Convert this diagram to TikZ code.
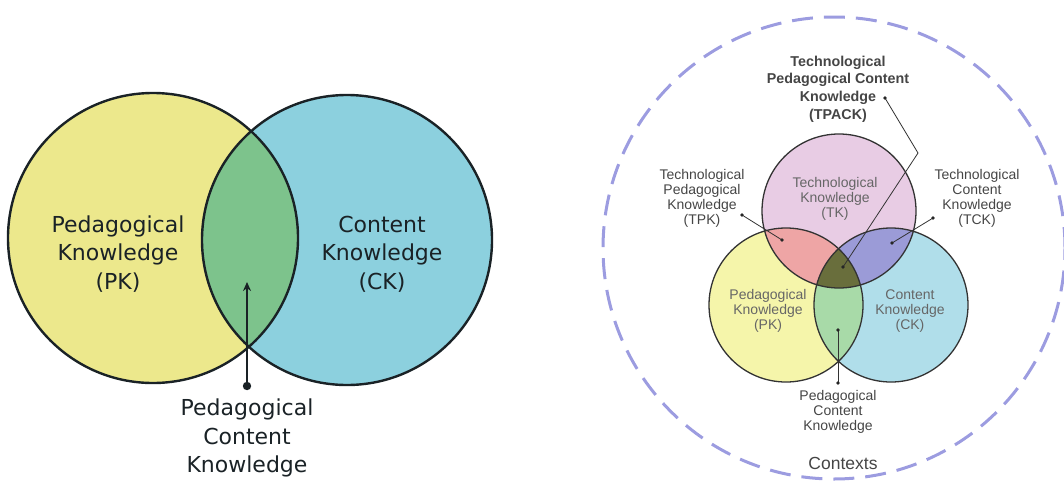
\documentclass[tikz,border=0pt]{standalone}
\usepackage{fontspec}
\setmainfont{Liberation Sans}
\newfontfamily\dejavu{DejaVu Sans}
\usetikzlibrary{arrows.meta}
\definecolor{lyellow}{HTML}{ECE88C}
\definecolor{lblue}{HTML}{8CD0DE}
\definecolor{lgreen}{HTML}{7DC38C}
\definecolor{ryellow}{HTML}{F5F5AA}
\definecolor{rblue}{HTML}{B0DEEA}
\definecolor{rpink}{HTML}{E8CCE4}
\definecolor{rred}{HTML}{EEA5A5}
\definecolor{rpurple}{HTML}{9B9BD7}
\definecolor{rgreen}{HTML}{A8DAA8}
\definecolor{rolive}{HTML}{696E3C}
\definecolor{ctxblue}{HTML}{9C9CE0}
\definecolor{darkline}{HTML}{1A2226}
\definecolor{labgray}{HTML}{454545}
\definecolor{ingray}{HTML}{666666}
\begin{document}
\begin{tikzpicture}[x=1pt,y=-1pt,
  bigring/.style={circle, draw=darkline, line width=2.4pt, inner sep=0pt},
  smallring/.style={circle, draw=black!80, line width=1.3pt, inner sep=0pt},
  bigtext/.style={align=center, text=darkline, font=\dejavu\fontsize{22}{28.5}\selectfont},
  lab/.style={align=center, text=labgray, font=\fontsize{14}{15}\selectfont},
  inlab/.style={align=center, text=ingray, font=\fontsize{14}{15}\selectfont},
  leader/.style={draw=black!80, line width=0.8pt},
]
\useasboundingbox (0,0) rectangle (1064,482);
% ---------- left diagram ----------
\fill[lyellow] (153,238) circle (145pt);
\fill[lblue] (347,240) circle (145pt);
\begin{scope}
  \clip (153,238) circle (145pt);
  \fill[lgreen] (347,240) circle (145pt);
\end{scope}
\node[bigring, minimum size=290pt] (pkL) at (153,238) {};
\node[bigring, minimum size=290pt] (ckL) at (347,240) {};
\node[bigtext] (pkLt) at (118,254) {Pedagogical\\Knowledge\\(PK)};
\node[bigtext] (ckLt) at (382,254) {Content\\Knowledge\\(CK)};
\node[bigtext] (pckLt) at (247,438) {Pedagogical\\Content\\Knowledge};
\coordinate (pckTail) at (247,386);
\coordinate (pckTip) at (247,282);
\draw[darkline, line width=2pt, -{Stealth[length=9pt,width=8pt]}] (pckTail) -- (pckTip);
\fill[darkline] (pckTail) circle (4.2pt);
% ---------- right diagram ----------
\node[circle, draw=ctxblue, line width=3pt, dash pattern=on 21pt off 11pt, minimum size=462pt, inner sep=0pt] (ctx) at (834,248) {};
\fill[rpink] (839,211) circle (77pt);
\fill[ryellow] (786,305) circle (77pt);
\fill[rblue] (891,305) circle (77pt);
\begin{scope}
  \clip (839,211) circle (77pt);
  \fill[rred] (786,305) circle (77pt);
  \fill[rpurple] (891,305) circle (77pt);
\end{scope}
\begin{scope}
  \clip (786,305) circle (77pt);
  \fill[rgreen] (891,305) circle (77pt);
\end{scope}
\begin{scope}
  \clip (839,211) circle (77pt);
  \clip (786,305) circle (77pt);
  \fill[rolive] (891,305) circle (77pt);
\end{scope}
\node[smallring, minimum size=154pt] (tk) at (839,211) {};
\node[smallring, minimum size=154pt] (pk) at (786,305) {};
\node[smallring, minimum size=154pt] (ck) at (891,305) {};
\node[inlab] (tkt) at (835,199) {Technological\\Knowledge\\(TK)};
\node[inlab] (pkt) at (768,311) {Pedagogical\\Knowledge\\(PK)};
\node[inlab] (ckt) at (910,311) {Content\\Knowledge\\(CK)};
\node[align=center, text=labgray, font=\bfseries\fontsize{14.3}{17.7}\selectfont] (tpackt) at (838,89) {Technological\\Pedagogical Content\\Knowledge\\(TPACK)};
\node[lab] (tpkt) at (702,198) {Technological\\Pedagogical\\Knowledge\\(TPK)};
\node[lab] (tckt) at (977,198) {Technological\\Content\\Knowledge\\(TCK)};
\node[lab] (pckt) at (838,412) {Pedagogical\\Content\\Knowledge};
\node[text=labgray, font=\fontsize{17.5}{19}\selectfont] (ctxt) at (843,463) {Contexts};
% leaders
\coordinate (tpackA) at (885,98);
\coordinate (tpackB) at (918,153);
\coordinate (tpackC) at (843,267);
\coordinate (tpkA) at (742,215);
\coordinate (tpkB) at (782,240);
\coordinate (tckA) at (933,218);
\coordinate (tckB) at (892,243);
\coordinate (pckA) at (838,383);
\coordinate (pckB) at (838,330);
\draw[leader] (tpackA) -- (tpackB) -- (tpackC);
\draw[leader] (tpkA) -- (tpkB);
\draw[leader] (tckA) -- (tckB);
\draw[leader] (pckA) -- (pckB);
\foreach \p in {tpackA,tpackC,tpkA,tpkB,tckA,tckB,pckA,pckB}
  \fill[black!85] (\p) circle (1.9pt);
\end{tikzpicture}
\end{document}
